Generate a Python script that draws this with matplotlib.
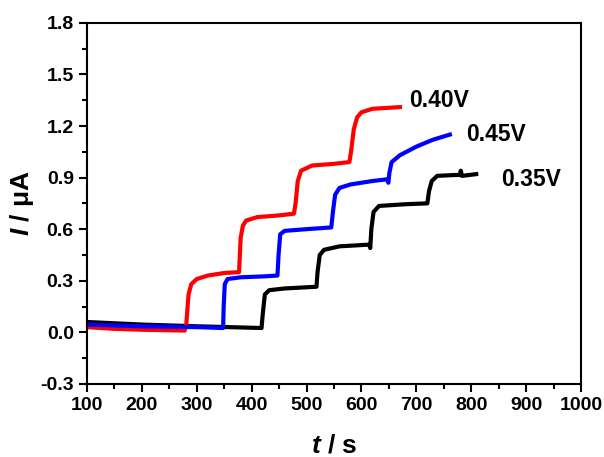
import matplotlib
matplotlib.use("Agg")
import matplotlib.pyplot as plt
from matplotlib.ticker import MultipleLocator

plt.rcParams['font.family'] = ['Liberation Sans', 'DejaVu Sans']
plt.rcParams['mathtext.fontset'] = 'custom'
plt.rcParams['mathtext.it'] = 'Liberation Sans:italic:bold'
plt.rcParams['mathtext.rm'] = 'Liberation Sans:bold'

# 0.40 V (red)
t_040 = [100, 150, 200, 278, 281, 285, 290, 300, 320, 350, 377,
         380, 384, 390, 410, 450, 477, 480, 484, 490, 510, 550, 578,
         581, 586, 592, 600, 620, 670]
i_040 = [0.030, 0.020, 0.015, 0.010, 0.05, 0.22, 0.28, 0.31, 0.33, 0.345, 0.35,
         0.55, 0.62, 0.65, 0.67, 0.68, 0.69, 0.75, 0.88, 0.94, 0.97, 0.98, 0.99,
         1.05, 1.18, 1.25, 1.28, 1.30, 1.31]

# 0.45 V (blue)
t_045 = [100, 200, 300, 348, 349, 351, 356, 380, 420, 447,
         449, 452, 460, 500, 545, 548, 552, 560, 580, 620, 647,
         649, 651, 655, 670, 700, 730, 761]
i_045 = [0.045, 0.035, 0.030, 0.025, 0.15, 0.28, 0.31, 0.32, 0.325, 0.33,
         0.45, 0.57, 0.59, 0.60, 0.61, 0.70, 0.80, 0.84, 0.86, 0.88, 0.89,
         0.87, 0.93, 0.99, 1.03, 1.08, 1.12, 1.15]

# 0.35 V (black)
t_035 = [100, 200, 300, 418, 420, 424, 432, 460, 518, 520, 524, 532, 560,
         614, 616, 618, 622, 632, 680, 720, 723, 728, 738, 770, 779, 781, 783, 809]
i_035 = [0.06, 0.045, 0.035, 0.025, 0.10, 0.22, 0.245, 0.255, 0.265, 0.35, 0.45, 0.48, 0.50,
         0.51, 0.49, 0.60, 0.70, 0.735, 0.745, 0.75, 0.82, 0.88, 0.91, 0.915, 0.915, 0.94, 0.91, 0.92]

labels = ["0.40V", "0.45V", "0.35V"]
label_pos = [(687, 1.35), (791, 1.15), (855, 0.89)]

fig = plt.figure(figsize=(6.04, 4.57), dpi=100)
ax = fig.add_axes([0.144, 0.160, 0.818, 0.790])

ax.plot(t_035, i_035, color="black", lw=3)
ax.plot(t_040, i_040, color="#FF0000", lw=3)
ax.plot(t_045, i_045, color="#0000FF", lw=3)

for txt, (x, y) in zip(labels, label_pos):
    ax.text(x, y, txt, fontsize=16.5, fontweight="bold", va="center", ha="left")

ax.set_xlim(100, 1000)
ax.set_ylim(-0.3, 1.8)
ax.xaxis.set_major_locator(MultipleLocator(100))
ax.xaxis.set_minor_locator(MultipleLocator(50))
ax.yaxis.set_major_locator(MultipleLocator(0.3))
ax.yaxis.set_minor_locator(MultipleLocator(0.15))
ax.yaxis.set_major_formatter(plt.FuncFormatter(lambda v, p: f"{v:.1f}"))

for s in ax.spines.values():
    s.set_linewidth(1.5)
ax.tick_params(which="both", direction="out", width=1.5, top=False, right=False)
ax.tick_params(which="major", length=6, labelsize=14)
ax.tick_params(which="minor", length=3.5)
for lab in ax.get_xticklabels() + ax.get_yticklabels():
    lab.set_fontweight("bold")

ax.set_xlabel("$t$ / s", fontsize=19, fontweight="bold", labelpad=14)
ax.set_ylabel("$I$ / μA", fontsize=19, fontweight="bold", labelpad=3)

fig.savefig("out.png", dpi=100)
